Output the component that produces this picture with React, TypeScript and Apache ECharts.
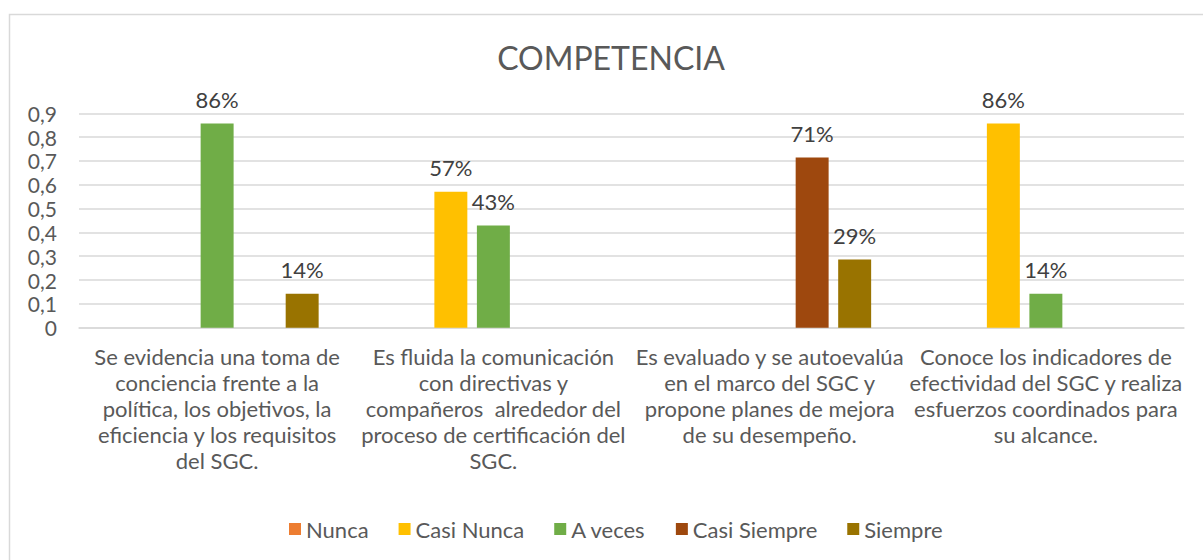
import React, { useEffect, useRef } from "react";
import * as echarts from "echarts";

const categories = [
  "Se evidencia una toma de\nconciencia frente a la\npolítica, los objetivos, la\neficiencia y los requisitos\ndel SGC.",
  "Es fluida la comunicación\ncon directivas y\ncompañeros  alrededor del\nproceso de certificación del\nSGC.",
  "Es evaluado y se autoevalúa\nen el marco del SGC y\npropone planes de mejora\nde su desempeño.",
  "Conoce los indicadores de\nefectividad del SGC y realiza\nesfuerzos coordinados para\nsu alcance.",
];
const seriesNames = ["Nunca", "Casi Nunca", "A veces", "Casi Siempre", "Siempre"];
const nunca = [null, null, null, null];
const casiNunca = [null, 0.571, null, 0.857];
const aVeces = [0.857, 0.429, null, 0.143];
const casiSiempre = [null, null, 0.714, null];
const siempre = [0.143, null, 0.286, null];
const colors = ["#ED7D31", "#FFC000", "#70AD47", "#9E480E", "#997300"];
const yTicks = ["0", "0,1", "0,2", "0,3", "0,4", "0,5", "0,6", "0,7", "0,8", "0,9"];

const FONT = "Lato";

export default function App() {
  const ref = useRef<HTMLDivElement>(null);
  useEffect(() => {
    if (!ref.current) return;
    const chart = echarts.init(ref.current, null, { renderer: "svg" });
    const values = [nunca, casiNunca, aVeces, casiSiempre, siempre];
    chart.setOption({
      animation: false,
      color: colors,
      textStyle: { fontFamily: FONT },
      title: {
        text: "COMPETENCIA",
        left: 606,
        top: 36,
        textAlign: "center",
        textStyle: { fontFamily: FONT, fontSize: 32, fontWeight: "normal", color: "#595959" },
      },
      graphic: [
        {
          type: "rect",
          shape: { x: 9.5, y: 14.5, width: 1300, height: 700 },
          style: { fill: "none", stroke: "#d9d9d9", lineWidth: 1.5 },
          silent: true,
        },
      ],
      legend: {
        data: seriesNames,
        left: 284,
        top: 513,
        itemWidth: 12,
        itemHeight: 12,
        itemGap: 30,
        icon: "rect",
        textStyle: { fontFamily: FONT, fontSize: 22, color: "#595959" },
      },
      grid: { left: 79, right: 19, top: 113.3, bottom: 232.3, containLabel: false },
      xAxis: {
        type: "category",
        data: categories,
        axisLine: { show: true, lineStyle: { color: "#d9d9d9", width: 1.5 } },
        axisTick: { show: false },
        axisLabel: {
          interval: 0,
          margin: 16,
          fontFamily: FONT,
          fontSize: 22,
          lineHeight: 26,
          color: "#595959",
          align: "center",
        },
      },
      yAxis: {
        type: "value",
        min: 0,
        max: 0.9,
        interval: 0.1,
        axisLine: { show: false },
        axisTick: { show: false },
        splitLine: { lineStyle: { color: "#d9d9d9", width: 1.5 } },
        axisLabel: {
          margin: 22,
          fontFamily: FONT,
          fontSize: 21,
          lineHeight: 20,
          color: "#595959",
          formatter: (v: number) => yTicks[Math.round(v * 10)],
        },
      },
      series: seriesNames.map((name, i) => ({
        name,
        type: "bar",
        data: values[i],
        barGap: "29%",
        barCategoryGap: "26.5%",
        itemStyle: { color: colors[i] },
        label: {
          show: true,
          position: "top",
          distance: 13,
          fontFamily: FONT,
          fontSize: 22,
          color: "#404040",
          formatter: (p: any) => Math.round(p.value * 100) + "%",
        },
      })),
    });
    return () => chart.dispose();
  }, []);
  return (
    <div
      ref={ref}
      style={{ position: "fixed", left: 0, top: 0, width: 1203, height: 560, background: "#fff" }}
    />
  );
}
